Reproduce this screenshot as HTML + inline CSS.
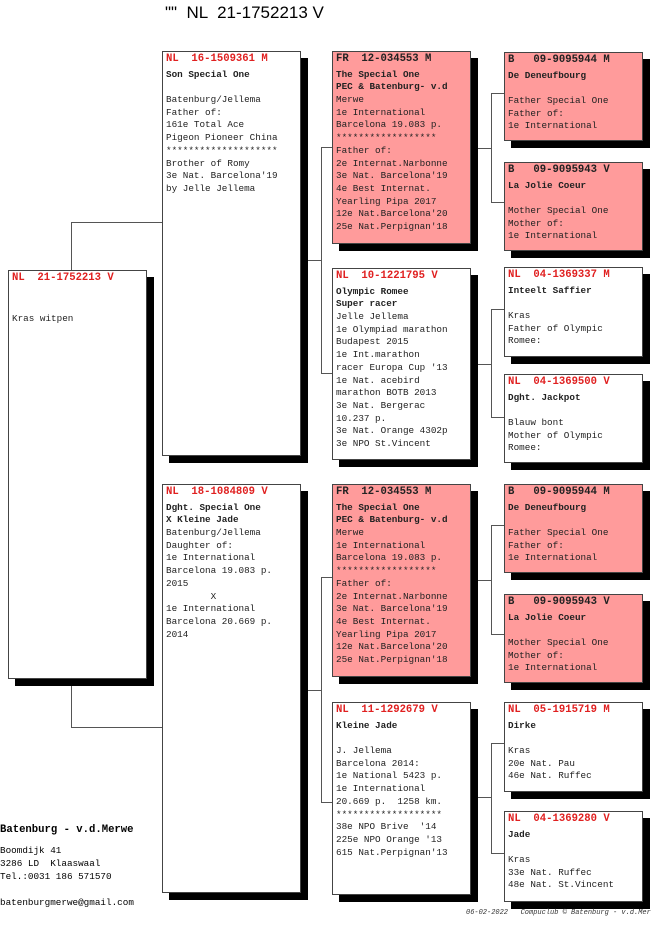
<!DOCTYPE html>
<html><head><meta charset="utf-8"><style>
body{margin:0;width:651px;height:935px;position:relative;background:#fff;overflow:hidden;font-family:"Liberation Mono",monospace;}
.b{position:absolute;border:1px solid #444;background:#fff;box-shadow:7px 7px 0 #000;box-sizing:border-box;padding:0 2px 0 3px;font-size:9.3px;color:#222;}
.p{background:#ff9b9b;}
.h{height:14px;line-height:14px;font-weight:bold;color:#e02020;font-size:10.6px;white-space:pre;}
.p .h{color:#222;}
pre{margin:2.6px 0 0 0;font:9.3px/12.7px "Liberation Mono",monospace;}
b{font-weight:bold;}
.l{position:absolute;background:#555;}
.t{position:absolute;white-space:pre;}
</style></head><body>
<div class="t" style="left:165px;top:3px;font:17px 'Liberation Sans',sans-serif;">""  NL  21-1752213 V</div>

<!-- connectors -->
<div class="l" style="left:71px;top:222px;width:1px;height:48px"></div>
<div class="l" style="left:71px;top:222px;width:91px;height:1px"></div>
<div class="l" style="left:71px;top:685px;width:1px;height:42px"></div>
<div class="l" style="left:71px;top:727px;width:91px;height:1px"></div>

<div class="l" style="left:307px;top:260px;width:15px;height:1px"></div>
<div class="l" style="left:321px;top:147px;width:1px;height:227px"></div>
<div class="l" style="left:321px;top:147px;width:11px;height:1px"></div>
<div class="l" style="left:321px;top:373px;width:11px;height:1px"></div>

<div class="l" style="left:307px;top:690px;width:15px;height:1px"></div>
<div class="l" style="left:321px;top:577px;width:1px;height:226px"></div>
<div class="l" style="left:321px;top:577px;width:11px;height:1px"></div>
<div class="l" style="left:321px;top:802px;width:11px;height:1px"></div>

<div class="l" style="left:477px;top:148px;width:15px;height:1px"></div>
<div class="l" style="left:491px;top:93px;width:1px;height:110px"></div>
<div class="l" style="left:491px;top:93px;width:13px;height:1px"></div>
<div class="l" style="left:491px;top:202px;width:13px;height:1px"></div>

<div class="l" style="left:477px;top:364px;width:15px;height:1px"></div>
<div class="l" style="left:491px;top:309px;width:1px;height:109px"></div>
<div class="l" style="left:491px;top:309px;width:13px;height:1px"></div>
<div class="l" style="left:491px;top:417px;width:13px;height:1px"></div>

<div class="l" style="left:477px;top:580px;width:15px;height:1px"></div>
<div class="l" style="left:491px;top:525px;width:1px;height:110px"></div>
<div class="l" style="left:491px;top:525px;width:13px;height:1px"></div>
<div class="l" style="left:491px;top:634px;width:13px;height:1px"></div>

<div class="l" style="left:477px;top:797px;width:15px;height:1px"></div>
<div class="l" style="left:491px;top:743px;width:1px;height:111px"></div>
<div class="l" style="left:491px;top:743px;width:13px;height:1px"></div>
<div class="l" style="left:491px;top:853px;width:13px;height:1px"></div>

<!-- main -->
<div class="b" style="left:8px;top:270px;width:139px;height:409px">
<div class="h">NL  21-1752213 V</div>
<pre>


Kras witpen</pre></div>

<!-- gen1 -->
<div class="b" style="left:162px;top:51px;width:139px;height:405px">
<div class="h">NL  16-1509361 M</div>
<pre><b>Son Special One</b>

Batenburg/Jellema
Father of:
161e Total Ace
Pigeon Pioneer China
********************
Brother of Romy
3e Nat. Barcelona'19
by Jelle Jellema</pre></div>

<div class="b" style="left:162px;top:484px;width:139px;height:409px">
<div class="h">NL  18-1084809 V</div>
<pre><b>Dght. Special One
X Kleine Jade</b>
Batenburg/Jellema
Daughter of:
1e International
Barcelona 19.083 p.
2015
        X
1e International
Barcelona 20.669 p.
2014</pre></div>

<!-- gen2 -->
<div class="b p" style="left:332px;top:51px;width:139px;height:193px">
<div class="h">FR  12-034553 M</div>
<pre><b>The Special One
PEC &amp; Batenburg- v.d</b>
Merwe
1e International
Barcelona 19.083 p.
******************
Father of:
2e Internat.Narbonne
3e Nat. Barcelona'19
4e Best Internat.
Yearling Pipa 2017
12e Nat.Barcelona'20
25e Nat.Perpignan'18</pre></div>

<div class="b" style="left:332px;top:268px;width:139px;height:192px">
<div class="h">NL  10-1221795 V</div>
<pre><b>Olympic Romee
Super racer</b>
Jelle Jellema
1e Olympiad marathon
Budapest 2015
1e Int.marathon
racer Europa Cup '13
1e Nat. acebird
marathon BOTB 2013
3e Nat. Bergerac
10.237 p.
3e Nat. Orange 4302p
3e NPO St.Vincent</pre></div>

<div class="b p" style="left:332px;top:484px;width:139px;height:193px">
<div class="h">FR  12-034553 M</div>
<pre><b>The Special One
PEC &amp; Batenburg- v.d</b>
Merwe
1e International
Barcelona 19.083 p.
******************
Father of:
2e Internat.Narbonne
3e Nat. Barcelona'19
4e Best Internat.
Yearling Pipa 2017
12e Nat.Barcelona'20
25e Nat.Perpignan'18</pre></div>

<div class="b" style="left:332px;top:702px;width:139px;height:193px">
<div class="h">NL  11-1292679 V</div>
<pre><b>Kleine Jade</b>

J. Jellema
Barcelona 2014:
1e National 5423 p.
1e International
20.669 p.  1258 km.
*******************
38e NPO Brive  '14
225e NPO Orange '13
615 Nat.Perpignan'13</pre></div>

<!-- gen3 -->
<div class="b p" style="left:504px;top:52px;width:139px;height:89px">
<div class="h">B   09-9095944 M</div>
<pre><b>De Deneufbourg</b>

Father Special One
Father of:
1e International</pre></div>

<div class="b p" style="left:504px;top:162px;width:139px;height:89px">
<div class="h">B   09-9095943 V</div>
<pre><b>La Jolie Coeur</b>

Mother Special One
Mother of:
1e International</pre></div>

<div class="b" style="left:504px;top:267px;width:139px;height:90px">
<div class="h">NL  04-1369337 M</div>
<pre><b>Inteelt Saffier</b>

Kras
Father of Olympic
Romee:</pre></div>

<div class="b" style="left:504px;top:374px;width:139px;height:89px">
<div class="h">NL  04-1369500 V</div>
<pre><b>Dght. Jackpot</b>

Blauw bont
Mother of Olympic
Romee:</pre></div>

<div class="b p" style="left:504px;top:484px;width:139px;height:89px">
<div class="h">B   09-9095944 M</div>
<pre><b>De Deneufbourg</b>

Father Special One
Father of:
1e International</pre></div>

<div class="b p" style="left:504px;top:594px;width:139px;height:89px">
<div class="h">B   09-9095943 V</div>
<pre><b>La Jolie Coeur</b>

Mother Special One
Mother of:
1e International</pre></div>

<div class="b" style="left:504px;top:702px;width:139px;height:90px">
<div class="h">NL  05-1915719 M</div>
<pre><b>Dirke</b>

Kras
20e Nat. Pau
46e Nat. Ruffec</pre></div>

<div class="b" style="left:504px;top:811px;width:139px;height:91px">
<div class="h">NL  04-1369280 V</div>
<pre><b>Jade</b>

Kras
33e Nat. Ruffec
48e Nat. St.Vincent</pre></div>

<!-- contact -->
<div class="t" style="left:0;top:824px;font:bold 10.6px 'Liberation Mono',monospace;">Batenburg - v.d.Merwe</div>
<div class="t" style="left:0;top:844px;font:9.3px/13px 'Liberation Mono',monospace;">Boomdijk 41
3286 LD  Klaaswaal
Tel.:0031 186 571570

batenburgmerwe@gmail.com</div>
<div class="t" style="left:466px;top:909px;font:italic 7px 'Liberation Mono',monospace;color:#333;">06-02-2022   Compuclub © Batenburg - v.d.Merwe</div>
</body></html>
